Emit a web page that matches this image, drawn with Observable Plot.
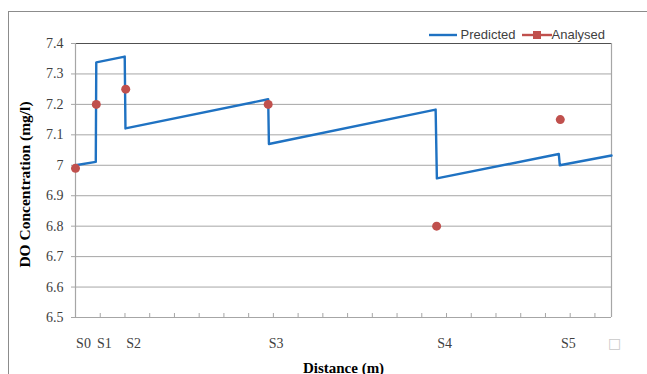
<!DOCTYPE html>
<html>
<head>
<meta charset="utf-8">
<script src="https://cdn.jsdelivr.net/npm/d3@7"></script>
<script src="https://cdn.jsdelivr.net/npm/@observablehq/plot@0.6"></script>
<style>
  html, body { margin: 0; padding: 0; background: #fff; overflow: hidden; }
  #wrap { position: relative; width: 647px; height: 374px; }
  #frame { position: absolute; left: 8px; top: 11px; width: 700px; height: 420px; border: 1px solid #8c8c8c; box-sizing: border-box; pointer-events: none; }
  #legend { position: absolute; left: 429px; top: 27px; font-family: "Liberation Sans", Arial, sans-serif; font-size: 13px; color: #404040; display: flex; align-items: center; white-space: nowrap; }
  #legend svg { vertical-align: middle; }
  #legend span { margin-right: 6px; }
</style>
</head>
<body>
<div id="wrap">
  <div id="chart"></div>
  <div id="frame"></div>
  <div id="legend"></div>
</div>
<script>
// Predicted DO profile (distance in axis-tick units)
const predDist = [0, 0.82, 0.84, 1.99, 2.02, 7.79, 7.82, 14.56, 14.61, 19.54, 19.58, 21.67];
const predDO   = [7.0, 7.011, 7.338, 7.357, 7.121, 7.217, 7.070, 7.183, 6.957, 7.037, 7.000, 7.032];

// Analysed samples at stations
const stations    = ["S0", "S1", "S2", "S3", "S4", "S5"];
const stationDist = [0, 0.84, 2.03, 7.79, 14.6, 19.6];
const analysedDO  = [6.99, 7.2, 7.25, 7.2, 6.8, 7.15];

// Axes
const yTicks = [6.5, 6.6, 6.7, 6.8, 6.9, 7.0, 7.1, 7.2, 7.3, 7.4];
const yTickLabels = ["6.5", "6.6", "6.7", "6.8", "6.9", "7", "7.1", "7.2", "7.3", "7.4"];
const xTicks = d3.range(0, 22);
const xMax = 21.67;
const seriesNames = ["Predicted", "Analysed"];
const seriesColors = ["#1f72c2", "#c0504d"];

const predicted = predDist.map((d, i) => ({dist: d, value: predDO[i]}));
const analysed = stations.map((s, i) => ({name: s, dist: stationDist[i], value: analysedDO[i]}));
const yLabelRows = yTicks.map((t, i) => ({value: t, label: yTickLabels[i]}));

const serif = "'Liberation Serif', 'Times New Roman', serif";

const chart = Plot.plot({
  width: 647,
  height: 374,
  marginLeft: 75,
  marginRight: 36,
  marginTop: 43,
  marginBottom: 57,
  style: {fontFamily: serif, fontSize: "14px", color: "#404040", background: "transparent", overflow: "visible"},
  x: {domain: [0, xMax]},
  y: {domain: [6.5, 7.4]},
  marks: [
    Plot.ruleY(yTicks.slice(1, -1), {stroke: "#a6a6a6", strokeWidth: 1}),
    Plot.ruleY([7.4], {stroke: "#505050", strokeWidth: 1}),
    Plot.ruleX([xMax], {stroke: "#a6a6a6", strokeWidth: 1.2}),
    Plot.ruleX([0], {stroke: "#a6a6a6", strokeWidth: 1.2}),
    Plot.ruleY([6.5], {stroke: "#a6a6a6", strokeWidth: 1.2}),
    Plot.axisY({ticks: yTicks, tickSize: 4, tickFormat: () => "", label: null, stroke: "#a6a6a6"}),
    Plot.text(yLabelRows, {x: 0, y: "value", text: "label", dx: -12, textAnchor: "end", fontSize: 14, fontFamily: serif, fill: "#404040"}),
    Plot.axisX({ticks: xTicks, tickSize: -4, tickFormat: () => "", label: null, stroke: "#a6a6a6"}),
    Plot.line(predicted, {x: "dist", y: "value", stroke: seriesColors[0], strokeWidth: 2.4}),
    Plot.dot(analysed, {x: "dist", y: "value", r: 4.5, fill: seriesColors[1], stroke: "none"}),
    Plot.text(analysed, {x: "dist", y: 6.5, text: "name", dx: 8, dy: 26, fontSize: 14, fontFamily: serif, fill: "#404040"}),
    Plot.text(["\u25A1"], {x: [xMax], y: [6.5], dx: 3, dy: 26, fontSize: 14, fill: "#c8c8c8", fontFamily: "'DejaVu Sans', sans-serif"}),
    Plot.text(["DO Concentration (mg/l)"], {frameAnchor: "left", textAnchor: "middle", lineAnchor: "middle", rotate: -90, dx: -50, dy: 4, fontWeight: "bold", fontSize: 15.5, fontFamily: serif, fill: "#000"}),
    Plot.text(["Distance (m)"], {frameAnchor: "bottom", textAnchor: "middle", lineAnchor: "bottom", dy: 55, fontWeight: "bold", fontSize: 15, fontFamily: serif, fill: "#000"})
  ]
});
document.getElementById("chart").appendChild(chart);

// Legend
const legend = document.getElementById("legend");
legend.innerHTML =
  `<svg width="28" height="10"><line x1="0" y1="5" x2="28" y2="5" stroke="${seriesColors[0]}" stroke-width="2.4"/></svg><span>&nbsp;${seriesNames[0]}</span>` +
  `<svg width="30" height="10"><line x1="0" y1="5" x2="30" y2="5" stroke="${seriesColors[1]}" stroke-width="2.4"/><rect x="11" y="1" width="8" height="8" fill="${seriesColors[1]}"/></svg><span>${seriesNames[1]}</span>`;
</script>
</body>
</html>
